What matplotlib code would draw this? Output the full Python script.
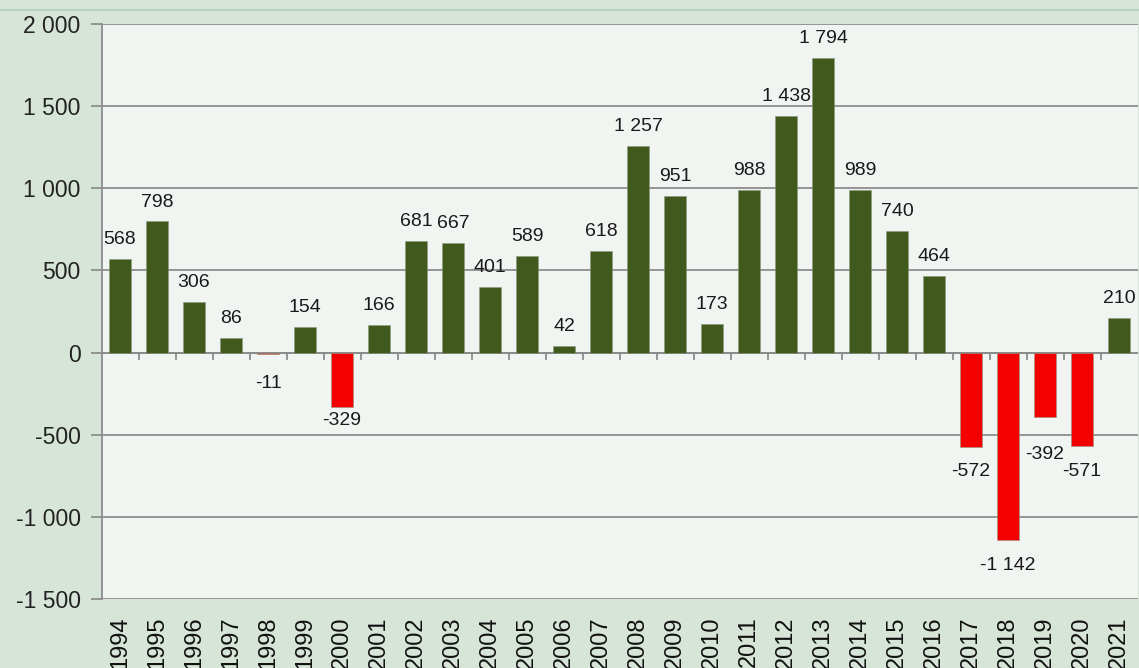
import numpy as np
import matplotlib
matplotlib.use('Agg')
import matplotlib.pyplot as plt
from matplotlib.lines import Line2D

years = [str(y) for y in range(1994, 2022)]
values = [568, 798, 306, 86, -11, 154, -329, 166, 681, 667, 401, 589, 42, 618,
          1257, 951, 173, 988, 1438, 1794, 989, 740, 464, -572, -1142, -392, -571, 210]
ytick_vals = [-1500, -1000, -500, 0, 500, 1000, 1500, 2000]


def fmt(v):
    # thousands separated by a space, like the source
    return '{:,}'.format(v).replace(',', ' ')


plt.rcParams['font.family'] = ['Liberation Sans', 'DejaVu Sans']

fig = plt.figure(figsize=(11.39, 6.68), dpi=100)
fig.patch.set_facecolor('#d6e5d8')
fig.add_artist(Line2D([0, 1], [1 - 9.5 / 668] * 2, color='#b3ccb8', lw=1.2,
                      transform=fig.transFigure))

ax = fig.add_axes([101.5 / 1139, 1 - 599 / 668, 1036 / 1139, 575 / 668])
ax.set_facecolor('#f1f5f1')

x = np.arange(len(years))
colors = ['#405a1d' if v >= 0 else '#f50000' for v in values]
ax.bar(x, values, width=0.6, color=colors, edgecolor='#8a9a80', linewidth=0.4, zorder=3)

ax.set_xlim(-0.5, len(years) - 0.5)
ax.set_ylim(-1500, 2000)
ax.set_yticks(ytick_vals)
ax.set_yticklabels([fmt(v) for v in ytick_vals], fontsize=16.5, color='#222222')
ax.yaxis.grid(True, color='#8c8c8c', lw=1.3, zorder=0)
ax.tick_params(axis='y', length=8, width=1.3, color='#8c8c8c', pad=7)

ax.set_xticks(x)
ax.set_xticklabels(years, rotation=90, fontsize=17, color='#111111')
ax.tick_params(axis='x', length=0, pad=12.5)

# zero line with small ticks at category borders
ax.axhline(0, color='#8c8c8c', lw=1.3, zorder=2)
for b in np.arange(0.5, len(years) - 0.5, 1.0):
    ax.plot([b, b], [0, -40], color='#8c8c8c', lw=1.3, zorder=2, clip_on=False)

for s in ['top', 'right']:
    ax.spines[s].set_visible(False)
ax.spines['bottom'].set_visible(False)
ax.spines['left'].set_color('#8c8c8c')
ax.spines['left'].set_linewidth(1.3)

nudge = {'1998': 3, '2000': -8, '2019': 9}
for xi, yr, v in zip(x, years, values):
    off = 14 if v >= 0 else -18
    if v < 0:
        off -= nudge.get(yr, 0)
    ax.annotate(fmt(v), (xi, v), xytext=(0, off), textcoords='offset points',
                ha='center', va='center', fontsize=14, color='#1a1a1a', zorder=4)

fig.savefig('out.png', dpi=100, facecolor=fig.get_facecolor())
